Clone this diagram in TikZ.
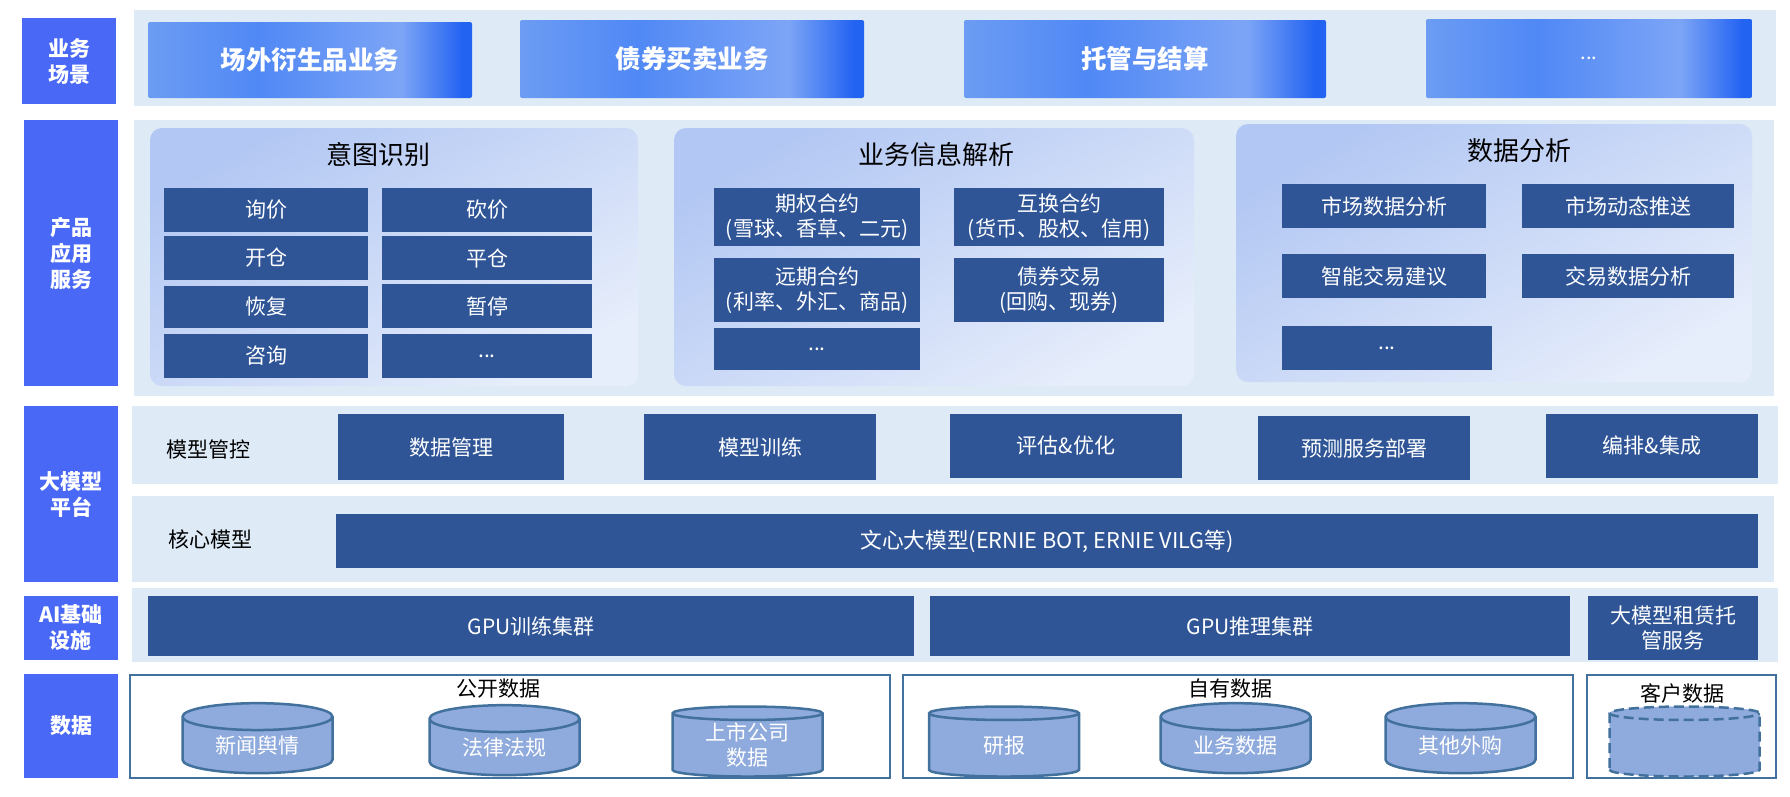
\documentclass[tikz,border=0pt]{standalone}
\usepackage{fontspec}
\setmainfont{Noto Sans CJK SC}
\usepackage{tikz}
\usetikzlibrary{shapes.geometric, positioning}

\definecolor{labelblue}{HTML}{4968F5}
\definecolor{bandblue}{HTML}{DEEAF6}
\definecolor{boxblue}{HTML}{2F5597}
\definecolor{dbfill}{HTML}{8FAADC}
\definecolor{dbline}{HTML}{41719C}
\definecolor{cardA}{HTML}{6C9CF3}
\definecolor{cardB}{HTML}{5088F5}
\definecolor{cardC}{HTML}{7DA5F6}
\definecolor{cardD}{HTML}{2363F2}
\definecolor{panelA}{HTML}{B2C7F3}
\definecolor{panelB}{HTML}{E6EDFB}
\pgfdeclarehorizontalshading{cardshade}{100bp}{
    color(0bp)=(cardA); color(25bp)=(cardA); color(42bp)=(cardB); color(64bp)=(cardC); color(73.5bp)=(cardD); color(100bp)=(cardD)}

\begin{document}
\begin{tikzpicture}[
        x=1pt, y=-1pt,
        label/.style={rectangle, fill=labelblue, text=white, inner sep=0pt, minimum width=94pt, align=center, font=\fontsize{21}{26}\selectfont\bfseries},
        band/.style={rectangle, fill=bandblue, inner sep=0pt},
        card/.style={rectangle, rounded corners=2pt, shading=cardshade, text=white, inner sep=0pt, minimum height=78pt, font=\fontsize{25.5}{30}\selectfont\bfseries},
        panel/.style={rectangle, rounded corners=12pt, left color=panelA, right color=panelB, shading angle=30, inner sep=0pt, minimum height=258pt},
        paneltitle/.style={inner sep=0pt, font=\fontsize{26}{30}\selectfont},
        box/.style={rectangle, fill=boxblue, text=white, inner sep=0pt, align=center, font=\fontsize{21}{25}\selectfont},
        plain/.style={inner sep=0pt, font=\fontsize{21}{25}\selectfont},
        frame/.style={rectangle, draw=dbline, line width=2.5pt, inner sep=0pt, minimum height=103pt},
        dbase/.style={cylinder, shape border rotate=90, aspect=0.32, draw=dbline, line width=2.5pt, fill=dbfill, cylinder uses custom fill, cylinder body fill=dbfill, cylinder end fill=dbfill, text=white, inner sep=0pt, minimum width=150pt, minimum height=70pt, align=center, font=\fontsize{21}{25}\selectfont}
    ]
    \useasboundingbox (0,0) rectangle (1790,796);

    % left column
    \node (lscene) [label, minimum height=86pt] at (69,61) {业务\\场景};
    \node (lapp) [label, minimum height=266pt] at (71,253) {产品\\应用\\服务};
    \node (lmodel) [label, minimum height=176pt] at (71,494) {大模型\\平台};
    \node (linfra) [label, minimum height=64pt] at (71,628) {AI基础\\设施};
    \node (ldata) [label, minimum height=104pt] at (71,726) {数据};

    % background bands
    \node (bscene) [band, minimum width=1642pt, minimum height=96pt] at (955,58) {};
    \node (bapp) [band, minimum width=1640pt, minimum height=276pt] at (954,258) {};
    \node (bmgmt) [band, minimum width=1646pt, minimum height=78pt] at (955,445) {};
    \node (bcore) [band, minimum width=1642pt, minimum height=86pt] at (953,539) {};
    \node (binfra) [band, minimum width=1646pt, minimum height=74pt] at (955,625) {};

    % business scenes
    \node (otc) [card, minimum width=324pt, minimum height=76pt] at (310,60) {场外衍生品业务};
    \node (bond) [card, minimum width=344pt] at (692,59) {债券买卖业务};
    \node (custody) [card, minimum width=362pt] at (1145,59) {托管与结算};
    \node (more) [card, minimum width=326pt, minimum height=79pt, font=\fontsize{20}{24}\selectfont] at (1589,58.5) {...};

    % intent recognition
    \node (intent) [panel, minimum width=488pt] at (394,257) {};
    \node (intenttitle) [paneltitle] at (378,155) {意图识别};
    \node (inquiry) [box, minimum width=204pt, minimum height=44pt] at (266,210) {询价};
    \node (haggle) [box, minimum width=210pt, minimum height=44pt] at (487,210) {砍价};
    \node (open) [box, minimum width=204pt, minimum height=44pt] at (266,258) {开仓};
    \node (close) [box, minimum width=210pt, minimum height=44pt] at (487,258) {平仓};
    \node (resume) [box, minimum width=204pt, minimum height=42pt] at (266,307) {恢复};
    \node (pause) [box, minimum width=210pt, minimum height=44pt] at (487,306) {暂停};
    \node (consult) [box, minimum width=204pt, minimum height=44pt] at (266,356) {咨询};
    \node (intentmore) [box, minimum width=210pt, minimum height=44pt] at (487,356) {...};

    % business information parsing
    \node (parse) [panel, minimum width=520pt] at (934,257) {};
    \node (parsetitle) [paneltitle] at (936,155) {业务信息解析};
    \node (option) [box, minimum width=206pt, minimum height=58pt] at (817,217) {期权合约\\(雪球、香草、二元)};
    \node (swap) [box, minimum width=210pt, minimum height=58pt] at (1059,217) {互换合约\\(货币、股权、信用)};
    \node (forward) [box, minimum width=206pt, minimum height=64pt] at (817,290) {远期合约\\(利率、外汇、商品)};
    \node (bondtrade) [box, minimum width=210pt, minimum height=64pt] at (1059,290) {债券交易\\(回购、现券)};
    \node (parsemore) [box, minimum width=206pt, minimum height=42pt] at (817,349) {...};

    % data analysis
    \node (analysis) [panel, minimum width=516pt] at (1494,253) {};
    \node (analysistitle) [paneltitle] at (1519,151) {数据分析};
    \node (market) [box, minimum width=204pt, minimum height=44pt] at (1384,206) {市场数据分析};
    \node (push) [box, minimum width=212pt, minimum height=44pt] at (1628,206) {市场动态推送};
    \node (advice) [box, minimum width=204pt, minimum height=44pt] at (1384,276) {智能交易建议};
    \node (tradedata) [box, minimum width=212pt, minimum height=44pt] at (1628,276) {交易数据分析};
    \node (analysismore) [box, minimum width=210pt, minimum height=44pt] at (1387,348) {...};

    % model platform
    \node (mgmt) [plain] at (208,449) {模型管控};
    \node (datamgmt) [box, minimum width=226pt, minimum height=66pt] at (451,447) {数据管理};
    \node (train) [box, minimum width=232pt, minimum height=66pt] at (760,447) {模型训练};
    \node (tune) [box, minimum width=232pt, minimum height=64pt] at (1066,446) {评估\&优化};
    \node (deploy) [box, minimum width=212pt, minimum height=64pt] at (1364,448) {预测服务部署};
    \node (compose) [box, minimum width=212pt, minimum height=64pt] at (1652,446) {编排\&集成};
    \node (core) [plain] at (210,539) {核心模型};
    \node (ernie) [box, minimum width=1422pt, minimum height=54pt, font=\fontsize{21.7}{25}\selectfont] at (1047,541) {文心大模型(ERNIE BOT, ERNIE VILG等)};

    % infrastructure
    \node (gputrain) [box, minimum width=766pt, minimum height=60pt] at (531,626) {GPU训练集群};
    \node (gpuinfer) [box, minimum width=640pt, minimum height=60pt] at (1250,626) {GPU推理集群};
    \node (lease) [box, minimum width=170pt, minimum height=64pt] at (1673,628) {大模型租赁托\\管服务};

    % data sources
    \node (public) [frame, minimum width=760pt] at (510,726.5) {};
    \node (own) [frame, minimum width=670pt] at (1238,726.5) {};
    \node (client) [frame, minimum width=189pt] at (1681.5,726.5) {};
    \node (publictitle) [plain] at (498,689) {公开数据};
    \node (owntitle) [plain] at (1230,689) {自有数据};
    \node (clienttitle) [plain] at (1682,693) {客户数据};
    \node (news) [dbase] at (257.5,745.5) {新闻舆情};
    \node (law) [dbase] at (504.5,747.5) {法律法规};
    \node (listed) [dbase] at (747.5,745.5) {\phantom{数据}};
    \node (listedtext) [plain, text=white, align=center] at (747.5,745) {上市公司\\数据};
    \node (report) [dbase] at (1004,745.5) {研报};
    \node (bizdata) [dbase] at (1235.5,745.5) {业务数据};
    \node (vendor) [dbase] at (1460.5,745.5) {其他外购};
    \node (clientdb) [dbase, dashed, dash pattern=on 10pt off 5pt] at (1684.5,745.5) {\phantom{数据}};
\end{tikzpicture}
\end{document}
